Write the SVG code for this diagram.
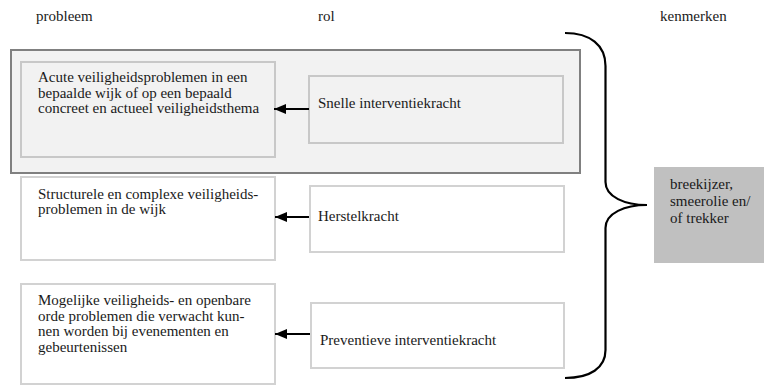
<svg xmlns="http://www.w3.org/2000/svg" width="764" height="385" viewBox="0 0 764 385">
  <defs>
    <style>
      .t { font-size: 15px; fill: #1a1a1a; }
      .outer { fill: #f2f2f2; stroke: #808080; stroke-width: 2; }
      .boxg { fill: #f2f2f2; stroke: #c8c8c8; stroke-width: 2; }
      .box { fill: #ffffff; stroke: #d2d2d2; stroke-width: 2; }
      .conn { stroke: #000000; stroke-width: 2; fill: none; }
      .brace { stroke: #000000; stroke-width: 2.2; fill: none; }
    </style>
    <marker id="arrow" viewBox="0 0 12 10" refX="12" refY="5" markerWidth="12" markerHeight="10" markerUnits="userSpaceOnUse" orient="auto">
      <path d="M0,0 L12,5 L0,10 Z" fill="#000000"/>
    </marker>
  </defs>
  <rect width="764" height="385" fill="#ffffff"/>

  <g id="headers" font-family="Liberation Serif" font-size="15" fill="#1a1a1a">
    <text class="t" x="36" y="21">probleem</text>
    <text class="t" x="318" y="21">rol</text>
    <text class="t" x="660" y="21">kenmerken</text>
  </g>

  <g id="group-acute">
    <rect class="outer" x="11" y="50" width="569" height="123"/>
  </g>

  <g id="probleem-1" font-family="Liberation Serif" font-size="15" fill="#1a1a1a">
    <rect class="boxg" x="21" y="62" width="254" height="95"/>
    <text class="t" x="38" y="82">Acute veiligheidsproblemen in een</text>
    <text class="t" x="38" y="97.5">bepaalde wijk of op een bepaald</text>
    <text class="t" x="38" y="113">concreet en actueel veiligheidsthema</text>
  </g>
  <g id="rol-1" font-family="Liberation Serif" font-size="15" fill="#1a1a1a">
    <rect class="boxg" x="309" y="76" width="254" height="67"/>
    <text class="t" x="318" y="108">Snelle interventiekracht</text>
  </g>

  <g id="probleem-2" font-family="Liberation Serif" font-size="15" fill="#1a1a1a">
    <rect class="box" x="21" y="177" width="254" height="83"/>
    <text class="t" x="38" y="199">Structurele en complexe veiligheids-</text>
    <text class="t" x="38" y="214">problemen in de wijk</text>
  </g>
  <g id="rol-2" font-family="Liberation Serif" font-size="15" fill="#1a1a1a">
    <rect class="box" x="310" y="186" width="254" height="66"/>
    <text class="t" x="318" y="221">Herstelkracht</text>
  </g>

  <g id="probleem-3" font-family="Liberation Serif" font-size="15" fill="#1a1a1a">
    <rect class="box" x="21" y="284" width="254" height="100"/>
    <text class="t" x="38" y="305">Mogelijke veiligheids- en openbare</text>
    <text class="t" x="38" y="320.5">orde problemen die verwacht kun-</text>
    <text class="t" x="38" y="336">nen worden bij evenementen en</text>
    <text class="t" x="38" y="351.5">gebeurtenissen</text>
  </g>
  <g id="rol-3" font-family="Liberation Serif" font-size="15" fill="#1a1a1a">
    <rect class="box" x="311" y="303" width="253" height="65"/>
    <text class="t" x="320" y="345">Preventieve interventiekracht</text>
  </g>

  <g id="kenmerken" font-family="Liberation Serif" font-size="15" fill="#1a1a1a">
    <rect x="654" y="167" width="112" height="96" fill="#c0c0c0"/>
    <text class="t" x="670" y="189">breekijzer,</text>
    <text class="t" x="670" y="206">smeerolie en/</text>
    <text class="t" x="670" y="223">of trekker</text>
  </g>

  <g id="connectors">
    <line class="conn" x1="309" y1="109" x2="274" y2="109" marker-end="url(#arrow)"/>
    <line class="conn" x1="309" y1="217" x2="275" y2="217" marker-end="url(#arrow)"/>
    <line class="conn" x1="310" y1="334" x2="275" y2="334" marker-end="url(#arrow)"/>
    <path class="brace" d="M565,33 C590,33 605.5,45 605.5,66 L605.5,182 C605.5,197 625,205 647,205 C625,205 605.5,213 605.5,228 L605.5,350 C605.5,368 590,378 565,378"/>
  </g>
</svg>
